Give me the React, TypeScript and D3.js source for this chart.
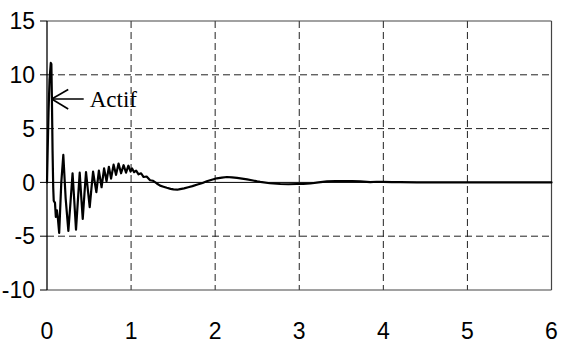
import React from "react";
import * as d3 from "d3";

const xTicks = [0, 1, 2, 3, 4, 5, 6];
const yTicks = [-10, -5, 0, 5, 10, 15];
const yTickLabels = ["-10", "-5", "0", "5", "10", "15"];
const annotationLabel = "Actif";
const annotationPoint = [0.056, 7.75];

const timeData = [
  0, 0.008, 0.018, 0.03, 0.045, 0.052, 0.058, 0.066, 0.074, 0.08, 0.095, 0.105, 0.118, 0.13, 0.145, 0.17,
  0.194, 0.222, 0.254, 0.28, 0.304, 0.325, 0.345, 0.368, 0.389, 0.407, 0.425, 0.445, 0.464, 0.486, 0.508,
  0.528, 0.548, 0.568, 0.587, 0.617, 0.649, 0.679, 0.708, 0.736, 0.762, 0.792, 0.821, 0.851, 0.881, 0.911,
  0.94, 0.968, 0.994, 1.012, 1.036, 1.06, 1.089, 1.119, 1.149, 1.185, 1.226, 1.262, 1.306, 1.345, 1.385,
  1.425, 1.47, 1.504, 1.55, 1.583, 1.63, 1.68, 1.73, 1.79, 1.85, 1.9, 1.96, 2.02, 2.08, 2.14, 2.2, 2.26,
  2.32, 2.38, 2.45, 2.5, 2.536, 2.65, 2.774, 2.87, 2.972, 3.05, 3.131, 3.23, 3.33, 3.43, 3.527, 3.63,
  3.726, 3.845, 3.92, 4.0, 4.1, 4.2, 4.4, 4.6, 4.8, 5.0, 5.2, 5.4, 5.6, 5.8, 6.0,
];

const valueData = [
  0, 3, 6.5, 9.5, 11.1, 11.0, 8, 3, -0.5, -1.7, -1.9, -3.2, -2.6, -3.4, -4.7, 0,
  2.55, -1.5, -4.5, -1.8, 0.85, -1.8, -4.4, -1.6, 0.9, -1.3, -3.4, -1.1, 0.95, -0.7, -2.3,
  -0.6, 1.0, 0.0, -0.9, 1.1, -0.45, 1.3, 0.1, 1.45, 0.35, 1.65, 0.7, 1.75, 0.85, 1.6,
  0.9, 1.55, 1.0, 1.3, 0.95, 1.1, 0.75, 0.85, 0.5, 0.55, 0.2, 0.15, -0.1, -0.3, -0.4,
  -0.5, -0.6, -0.65, -0.68, -0.62, -0.55, -0.45, -0.35, -0.2, -0.05, 0.1, 0.25, 0.38, 0.45, 0.5, 0.47, 0.42,
  0.35, 0.28, 0.18, 0.1, 0.05, -0.08, -0.15, -0.17, -0.15, -0.13, -0.1, 0.0, 0.1, 0.13, 0.12, 0.12,
  0.1, 0.03, 0.06, 0.05, 0.03, 0.03, 0.0, 0.01, 0.0, 0.0, 0.0, 0.0, 0.0, 0.0, 0.0,
];

const W = 561;
const H = 343;
const left = 47;
const right = 551.5;
const top = 21;
const bottom = 290;

export default function App() {
  const x = d3.scaleLinear().domain([0, 6]).range([left, right]);
  const y = d3.scaleLinear().domain([-10, 15]).range([bottom, top]);
  const pts: [number, number][] = timeData.map((t, i) => [t, valueData[i]]);
  const line = d3
    .line<[number, number]>()
    .x((d) => x(d[0]))
    .y((d) => y(d[1]));

  const ax = x(annotationPoint[0]);
  const ay = y(annotationPoint[1]);

  return (
    <svg
      width={W}
      height={H}
      style={{ position: "absolute", left: 0, top: 0, background: "#fff" }}
    >
      <rect x={0} y={0} width={W} height={H} fill="#fff" />
      {/* horizontal dashed grid */}
      {yTicks
        .filter((v) => v !== 0 && v !== -10 && v !== 15)
        .map((v) => (
          <line
            key={"hg" + v}
            x1={left}
            x2={right}
            y1={y(v)}
            y2={y(v)}
            stroke="#222"
            strokeWidth={1}
            strokeDasharray="7,4"
          />
        ))}
      {/* vertical dashed grid */}
      {xTicks
        .filter((v) => v !== 0 && v !== 6)
        .map((v) => (
          <line
            key={"vg" + v}
            x1={x(v)}
            x2={x(v)}
            y1={top}
            y2={bottom}
            stroke="#222"
            strokeWidth={1}
            strokeDasharray="7,4"
          />
        ))}
      {/* frame */}
      <line x1={left} x2={right} y1={top} y2={top} stroke="#444" strokeWidth={1.2} />
      <line x1={left} x2={right} y1={bottom} y2={bottom} stroke="#444" strokeWidth={1.2} />
      <line x1={right} x2={right} y1={top} y2={bottom} stroke="#444" strokeWidth={1.2} />
      <line x1={left} x2={right} y1={y(0)} y2={y(0)} stroke="#000" strokeWidth={1} />
      <line x1={left} x2={left} y1={top} y2={bottom} stroke="#000" strokeWidth={1.3} />
      {/* y ticks */}
      {yTicks.map((v) => (
        <line key={"yt" + v} x1={left - 7} x2={left} y1={y(v)} y2={y(v)} stroke="#000" strokeWidth={1} />
      ))}
      {yTicks.map((v, i) => (
        <text
          key={"yl" + v}
          x={35}
          y={y(v)}
          dy="0.36em"
          textAnchor="end"
          fontFamily="'Liberation Sans', Arial, sans-serif"
          fontSize={23}
          fill="#000"
        >
          {yTickLabels[i]}
        </text>
      ))}
      {xTicks.map((v) => (
        <text
          key={"xl" + v}
          x={x(v)}
          y={339}
          textAnchor="middle"
          fontFamily="'Liberation Sans', Arial, sans-serif"
          fontSize={23}
          fill="#000"
        >
          {v}
        </text>
      ))}
      {/* data */}
      <path
        d={line(pts) || ""}
        fill="none"
        stroke="#000"
        strokeWidth={2.2}
        strokeLinejoin="round"
        strokeLinecap="round"
      />
      {/* annotation */}
      <line x1={ax} x2={ax + 32} y1={ay} y2={ay} stroke="#000" strokeWidth={1.6} />
      <line x1={ax} x2={ax + 16.5} y1={ay} y2={ay - 9.5} stroke="#000" strokeWidth={1.6} />
      <line x1={ax} x2={ax + 16.5} y1={ay} y2={ay + 10} stroke="#000" strokeWidth={1.6} />
      <text
        x={ax + 38}
        y={ay + 8}
        fontFamily="'Liberation Serif', 'Times New Roman', serif"
        fontSize={23}
        fill="#000"
      >
        {annotationLabel}
      </text>
    </svg>
  );
}
